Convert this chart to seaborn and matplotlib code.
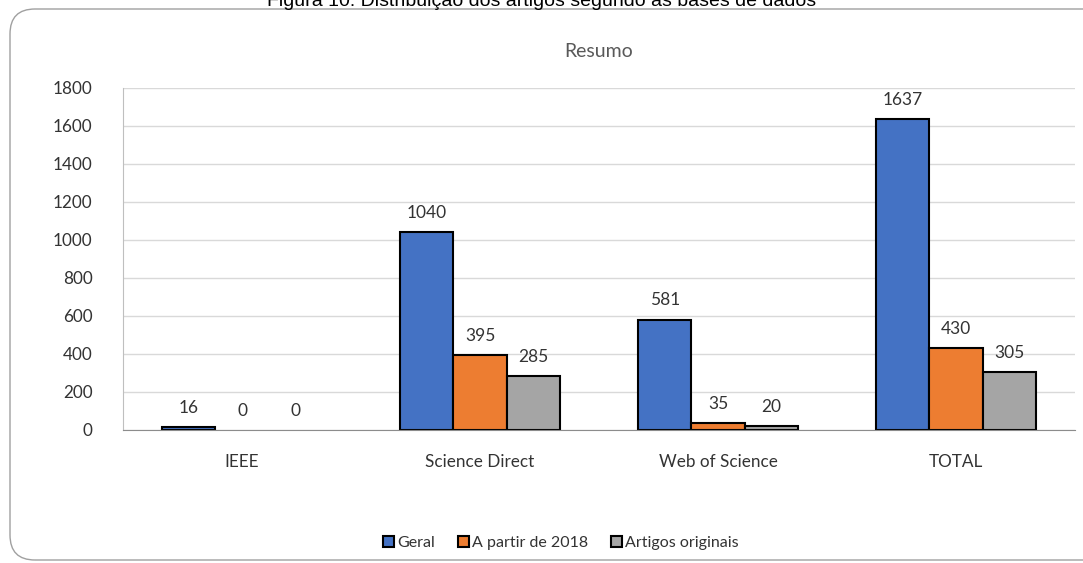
import matplotlib.pyplot as plt
import pandas as pd
import seaborn as sns
from matplotlib.patches import FancyBboxPatch

# Data
bases = ['IEEE', 'Science Direct', 'Web of Science', 'TOTAL']
geral = [16, 1040, 581, 1637]
a_partir_2018 = [0, 395, 35, 430]
artigos_originais = [0, 285, 20, 305]
series = ['Geral', 'A partir de 2018', 'Artigos originais']
colors = ['#4472C4', '#ED7D31', '#A5A5A5']

df = pd.DataFrame({'Base': bases, series[0]: geral, series[1]: a_partir_2018,
                   series[2]: artigos_originais})
df = df.melt('Base', var_name='Serie', value_name='Artigos')

sns.set_style('white')
plt.rcParams['font.family'] = ['Lato', 'DejaVu Sans']

fig = plt.figure(figsize=(10.83, 5.63), dpi=100)
ax = fig.add_axes([123 / 1083, 1 - 430 / 563, 952 / 1083, 342 / 563])

sns.barplot(data=df, x='Base', y='Artigos', hue='Serie', hue_order=series,
            palette=colors, saturation=1, width=0.67, edgecolor='black',
            linewidth=1.5, ax=ax, legend=True)

# hide edges of zero-height bars and add value labels
for cont in ax.containers:
    for p in cont:
        if p.get_height() == 0:
            p.set_linewidth(0)
    ax.bar_label(cont, padding=8, fontsize=12.5, color='#333333')

ax.set_xlim(-0.5, 3.5)
ax.set_ylim(0, 1800)
ax.set_yticks(range(0, 1801, 200))
ax.yaxis.grid(True, color='#D9D9D9', linewidth=1)
ax.set_axisbelow(True)
ax.set_xlabel('')
ax.set_ylabel('')
ax.tick_params(axis='both', length=0, labelsize=12.3, colors='#333333')
ax.tick_params(axis='x', pad=17)
ax.tick_params(axis='y', pad=22)
for s in ['top', 'right']:
    ax.spines[s].set_visible(False)
ax.spines['left'].set_color('#BFBFBF')
ax.spines['bottom'].set_color('#8C8C8C')

ax.set_title('Resumo', fontsize=14, color='#595959', pad=22)

leg = ax.legend(loc='center', bbox_to_anchor=(0.46, -113 / 342), ncol=3,
                frameon=False, fontsize=11.5, handlelength=0.7, handleheight=0.7,
                handletextpad=0.2, columnspacing=1.4, labelcolor='#333333')
for h in leg.legend_handles:
    h.set_edgecolor('black')
    h.set_linewidth(1.5)

# outer rounded frame
frame = FancyBboxPatch((0.10, 0.03), 11.0, 5.51,
                       boxstyle='round,pad=0,rounding_size=0.25',
                       transform=fig.dpi_scale_trans, facecolor='none',
                       edgecolor='#A0A0A0', linewidth=1, zorder=0)
fig.patches.append(frame)

fig.text(0.5, 1 - 6.5 / 563, 'Figura 10: Distribuição dos artigos segundo as bases de dados',
         ha='center', va='baseline', fontsize=14, family='Liberation Sans', color='black')

fig.savefig('out.png', dpi=100)
